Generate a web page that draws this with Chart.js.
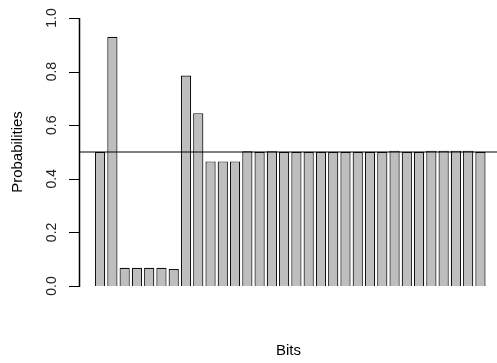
<!DOCTYPE html>
<html lang="en">
<head>
    <meta charset="UTF-8">
    <title>Bit probabilities</title>
    <script src="https://cdn.jsdelivr.net/npm/chart.js"></script>
    <style>
        body {
            margin: 0;
            background: #fff;
            overflow: hidden;
        }

        #chart-div {
            width: 497px;
            height: 363px;
        }

        canvas {
            display: block;
        }
    </style>
</head>
<body>

    <div id="chart-div">
        <canvas id="chart" width="497" height="363"></canvas>
    </div>

    <script>
        // bit index on the x axis
        const bits = [1, 2, 3, 4, 5, 6, 7, 8, 9, 10, 11, 12, 13, 14, 15, 16,
                      17, 18, 19, 20, 21, 22, 23, 24, 25, 26, 27, 28, 29, 30, 31, 32];

        // probability of each bit
        const probabilities = [0.50, 0.93, 0.068, 0.068, 0.068, 0.068, 0.063, 0.785,
                               0.645, 0.465, 0.465, 0.465, 0.503, 0.50, 0.503, 0.50,
                               0.50, 0.50, 0.50, 0.50, 0.50, 0.50, 0.50, 0.50,
                               0.505, 0.50, 0.50, 0.505, 0.505, 0.505, 0.505, 0.50];

        const yTicks = [0, 0.2, 0.4, 0.6, 0.8, 1.0];
        const threshold = 0.5;

        const xMin = -0.64;
        const xMax = 33.35;

        // R-style y axis: line from first to last tick, ticks pointing out
        const rAxis = {
            id: 'rAxis',
            afterDraw(chart) {
                const y = chart.scales.y;
                const x = Math.round(chart.chartArea.left) - 1;
                const top = Math.round(y.getPixelForValue(yTicks[yTicks.length - 1]));
                const bottom = Math.round(y.getPixelForValue(yTicks[0]));
                const c = chart.ctx;
                c.save();
                c.fillStyle = '#000';
                c.fillRect(x - 0.25, top, 1.5, bottom - top + 1);
                yTicks.forEach(v => {
                    const py = Math.round(y.getPixelForValue(v));
                    c.fillRect(x - 10, py, 10, 1);
                });
                c.restore();
            }
        };

        const ctx = document.getElementById('chart').getContext('2d');
        const chart = new Chart(ctx, {
            type: 'bar',
            data: {
                datasets: [{
                    type: 'line',
                    data: [{x: xMin, y: threshold}, {x: xMax, y: threshold}],
                    borderColor: '#000',
                    borderWidth: 1,
                    pointRadius: 0,
                    order: 0
                }, {
                    type: 'bar',
                    data: bits.map((b, i) => ({x: b, y: probabilities[i]})),
                    backgroundColor: '#bebebe',
                    borderColor: '#111',
                    borderWidth: 1.2,
                    categoryPercentage: 1,
                    barPercentage: 0.833,
                    order: 1
                }]
            },
            options: {
                responsive: false,
                animation: false,
                layout: {
                    padding: {top: 18, right: 0, bottom: 0, left: 0}
                },
                plugins: {
                    legend: {display: false},
                    tooltip: {enabled: false}
                },
                scales: {
                    x: {
                        type: 'linear',
                        min: xMin,
                        max: xMax,
                        offset: false,
                        grid: {display: false, offset: false},
                        border: {display: false},
                        ticks: {display: false, stepSize: 1, includeBounds: false},
                        title: {
                            display: true,
                            text: 'Bits',
                            color: '#000',
                            font: {family: 'Liberation Sans', size: 15},
                            padding: {top: 0, bottom: 3}
                        },
                        afterFit: (scale) => { scale.height = 77; }
                    },
                    y: {
                        min: 0,
                        max: 1,
                        afterBuildTicks: (scale) => {
                            scale.ticks = yTicks.map(v => ({value: v}));
                        },
                        // invisible tick marks, only used to push the labels left
                        grid: {
                            display: true,
                            drawOnChartArea: false,
                            drawTicks: true,
                            tickLength: 18,
                            color: 'rgba(0,0,0,0)',
                            lineWidth: 0
                        },
                        border: {display: false},
                        ticks: {
                            minRotation: 90,
                            maxRotation: 90,
                            crossAlign: 'center',
                            padding: 0,
                            color: '#222',
                            font: {family: 'Liberation Sans', size: 14},
                            callback: (v) => v.toFixed(1)
                        },
                        title: {
                            display: true,
                            text: 'Probabilities',
                            color: '#000',
                            font: {family: 'Liberation Sans', size: 15},
                            padding: {top: 9, bottom: 0}
                        },
                        afterFit: (scale) => { scale.width = 80; }
                    }
                }
            },
            plugins: [rAxis]
        });
    </script>
</body>
</html>
